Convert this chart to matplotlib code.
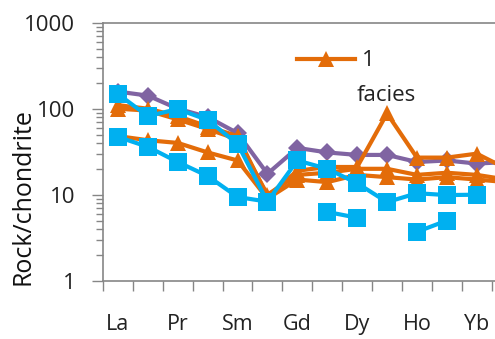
import numpy as np
import matplotlib
matplotlib.use("Agg")
import matplotlib.pyplot as plt
from matplotlib.ticker import FixedLocator, NullFormatter, LogLocator

plt.rcParams['font.family'] = ['Open Sans', 'DejaVu Sans']

categories = ["La", "Ce", "Pr", "Nd", "Sm", "Eu", "Gd", "Tb", "Dy", "Y", "Ho", "Er", "Yb", "Lu"]
shown_labels = ["La", "", "Pr", "", "Sm", "", "Gd", "", "Dy", "", "Ho", "", "Yb", ""]
nan = np.nan

purple = [158, 142, 100, 80, 52, 17.5, 35, 31, 29, 29, 24, 25, 23, 24]
blue_hi = [148, 82, 99, 74, 39, 8.3, 25, 20, 13.6, 8.2, 10.4, 9.9, 10.0, nan]
blue_lo = [47, 36, 24, 16.5, 9.4, 8.3, nan, 6.3, 5.4, nan, 3.7, 5.0, nan, nan]
orange_a = [110, 100, 82, 62, 48, 9.5, 19, 21, 21, 88, 27, 27, 30, 20]
orange_b = [100, 95, 75, 58, 44, 10, 17, 18, 20, 20, 17, 18, 17, 15]
orange_c = [48, 43, 40, 31, 25, 9, 15, 14, 17, 16, 15, 16, 15, 14]

BLUE = "#00B0F0"
ORANGE = "#E36C09"
PURPLE = "#8064A2"
GRAY = "#868686"

fig = plt.figure(figsize=(4.95, 3.39), dpi=100)
ax = fig.add_axes([103/495, 1 - 280.7/339, 14*29.9/495, 258/339])

x = np.arange(len(categories))
lw = 3.0
ax.plot(x, purple, color=PURPLE, lw=lw, marker='D', ms=9, mew=0, zorder=2)
h1, = ax.plot(x, orange_a, color=ORANGE, lw=lw, marker='^', ms=12, mew=0, zorder=3, label="1")
ax.plot(x, orange_b, color=ORANGE, lw=lw, marker='^', ms=12, mew=0, zorder=3)
ax.plot(x, orange_c, color=ORANGE, lw=lw, marker='^', ms=12, mew=0, zorder=3)
ax.plot(x, blue_hi, color=BLUE, lw=lw, marker='s', ms=12.5, mew=0, zorder=4)
ax.plot(x, blue_lo, color=BLUE, lw=lw, marker='s', ms=12.5, mew=0, zorder=4)

ax.set_yscale('log')
ax.set_ylim(1, 1000)
ax.set_xlim(-0.5, len(categories) - 0.5)

ax.yaxis.set_major_locator(FixedLocator([1, 10, 100, 1000]))
ax.yaxis.set_major_formatter(matplotlib.ticker.FixedFormatter(["1", "10", "100", "1000"]))
ax.yaxis.set_minor_locator(LogLocator(base=10, subs=np.arange(2, 10), numticks=20))
ax.yaxis.set_minor_formatter(NullFormatter())
ax.tick_params(axis='y', which='major', length=8, width=1, color=GRAY, labelsize=16, pad=12, labelcolor='#222222')
ax.tick_params(axis='y', which='minor', length=5, width=1, color=GRAY)

ax.xaxis.set_major_locator(FixedLocator(np.arange(-0.5, len(categories) + 0.5, 1)))
ax.xaxis.set_major_formatter(NullFormatter())
ax.xaxis.set_minor_locator(FixedLocator(x))
ax.xaxis.set_minor_formatter(matplotlib.ticker.FixedFormatter(shown_labels))
ax.tick_params(axis='x', which='major', length=7, width=1, color=GRAY)
ax.tick_params(axis='x', which='minor', length=0, labelsize=15.5, pad=24, labelcolor='#222222')

for s in ['left', 'bottom', 'top', 'right']:
    ax.spines[s].set_color(GRAY)
    ax.spines[s].set_linewidth(1.2)

fig.text(23/495, 1 - 197/339, "Rock/chondrite", rotation=90, ha='center', va='center',
         fontsize=18, color='#111111')

leg = fig.legend(handles=[h1], loc='center left', bbox_to_anchor=(297/495, 1 - 61/339),
                 frameon=False, fontsize=16, handlelength=2.6, handletextpad=0.3,
                 borderpad=0, borderaxespad=0)
for t in leg.get_texts():
    t.set_color('#222222')
fig.text(357/495, 1 - 95/339, "facies", ha='left', va='center', fontsize=16, color='#222222')

fig.savefig("out.png", dpi=100)
